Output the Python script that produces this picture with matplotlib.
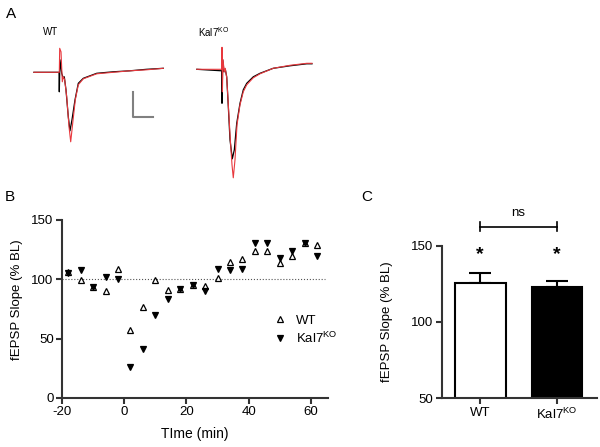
import matplotlib
matplotlib.use("Agg")
import matplotlib.pyplot as plt

plt.rcParams['font.family'] = ['Liberation Sans', 'DejaVu Sans']
plt.rcParams['axes.unicode_minus'] = False

# ---- data ----
# panel A: example traces (time in ms from stimulus, amplitude in mV from baseline)
wt_t_black = [-6.4, -0.12, -0.05, 0.12, 0.55, 0.95, 1.2, 1.62, 2.2, 2.62, 3.12, 3.88, 4.7, 5.95, 9.3, 13.4, 17.6, 21.8, 25.95]
wt_v_black = [0, 0, -0.39, 0.25, -0.02, -0.12, -0.09, -0.35, -0.89, -1.17, -0.95, -0.55, -0.22, -0.12, -0.02, 0.01, 0.03, 0.06, 0.08]
wt_t_red = [-6.4, -0.05, 0.05, 0.38, 0.7, 0.95, 1.3, 1.8, 2.38, 2.8, 3.3, 3.95, 4.7, 5.95, 9.3, 13.4, 17.6, 21.8, 25.95]
wt_v_red = [0, 0, 0.48, 0.41, -0.19, -0.09, -0.15, -0.49, -1.09, -1.39, -1.02, -0.55, -0.25, -0.13, -0.03, 0.0, 0.03, 0.05, 0.08]
ko_t_black = [-6.3, -0.08, 0.0, 0.18, 0.5, 0.82, 1.18, 1.58, 2.0, 2.58, 3.08, 3.68, 4.5, 5.32, 6.18, 7.82, 9.5, 12.8, 17.0, 21.2, 22.5]
ko_v_black = [0, -0.03, -0.68, 0.19, -0.05, 0, -0.15, -0.75, -1.41, -1.79, -1.61, -1.08, -0.68, -0.41, -0.28, -0.15, -0.08, 0.02, 0.07, 0.11, 0.11]
ko_t_red = [-6.3, -0.08, 0.0, 0.1, 0.25, 0.58, 0.82, 1.18, 1.58, 2.08, 2.5, 2.82, 3.25, 3.75, 4.5, 5.32, 6.18, 7.82, 9.5, 12.8, 17.0, 21.2, 22.5]
ko_v_red = [0, 0, 0.44, -0.45, 0.19, -0.05, 0.02, -0.17, -0.71, -1.41, -1.91, -2.17, -1.81, -1.11, -0.71, -0.45, -0.31, -0.17, -0.09, 0.02, 0.08, 0.12, 0.12]
scale_ms = 5
scale_mv = 0.5

# panel B: time course
time_min = [-18, -14, -10, -6, -2, 2, 6, 10, 14, 18, 22, 26, 30, 34, 38, 42, 46, 50, 54, 58, 62]
wt_slope = [106, 99.3, 93.7, 90.3, 108.8, 57.2, 76.8, 99.3, 90.9, 92, 95.3, 94.2, 101.5, 115, 117, 124, 124, 113.8, 119.4, 130.7, 128.7]
ko_slope = [105, 107.7, 93.7, 102, 100, 26.4, 41, 69.8, 83.3, 92, 95.3, 90, 108.5, 108, 108.5, 130.7, 130.7, 118.3, 123.7, 130.7, 119.4]

# panel C: summary
ko_name = 'Kal7$\\mathregular{^{KO}}$'
groups = ['WT', ko_name]
means = [125.8, 123.1]
sems = [6.5, 4.0]

W, H = 600, 447


def px(x, y):
    return x / W, 1 - y / H


fig = plt.figure(figsize=(6, 4.47), dpi=100)
axis_col = '#333333'

# ---- panel A ----
axA = fig.add_axes([0, 1 - 200 / H, 1, 200 / H])
axA.set_xlim(0, 150)
axA.set_ylim(-2.554, 1.446)
axA.axis('off')
wt_x0, ko_x0, ko_y0 = 14.875, 55.5, 0.06
axA.plot([t + wt_x0 for t in wt_t_black], wt_v_black, color='black', lw=0.9)
axA.plot([t + wt_x0 for t in wt_t_red], wt_v_red, color='#e8383d', lw=0.8)
axA.plot([t + ko_x0 for t in ko_t_black], [v + ko_y0 for v in ko_v_black], color='black', lw=0.9)
axA.plot([t + ko_x0 for t in ko_t_red], [v + ko_y0 for v in ko_v_red], color='#e8383d', lw=0.8)
sb_x, sb_y = 33.2, -0.89
axA.plot([sb_x, sb_x, sb_x + scale_ms], [sb_y + scale_mv, sb_y, sb_y], color='#808080', lw=1.5)

fig.text(*px(6, 14), 'A', fontsize=11, va='center')
fig.text(*px(43, 32), 'WT', fontsize=7, va='center')
fig.text(*px(198, 32), ko_name, fontsize=7, va='center')
fig.text(*px(5, 197), 'B', fontsize=11, va='center')
fig.text(*px(361, 197), 'C', fontsize=11, va='center')

# ---- panel B ----
axB = fig.add_axes([62 / W, 1 - 398 / H, 266 / W, 178 / H])
axB.axhline(100, color='#555555', lw=0.8, ls=':', xmax=0.99)
axB.plot(time_min, wt_slope, ls='none', marker='^', ms=4.5, mfc='white', mec='black', mew=0.9, label='WT')
axB.plot(time_min, ko_slope, ls='none', marker='v', ms=4.5, mfc='black', mec='black', mew=0.9, label=ko_name)
axB.set_xlim(-20, 65.5)
axB.set_ylim(0, 150)
axB.set_xticks([-20, 0, 20, 40, 60])
axB.set_yticks([0, 50, 100, 150])
axB.set_xlabel('TIme (min)', fontsize=10, labelpad=6)
axB.set_ylabel('fEPSP Slope (% BL)', fontsize=9.5)
axB.yaxis.set_label_coords(-0.147, 0.55)
axB.legend(frameon=False, loc='center left', bbox_to_anchor=(0.77, 0.38), fontsize=9.5,
           handletextpad=0.6, borderaxespad=0, labelspacing=0.3, handlelength=1.2)

# ---- panel C ----
axC = fig.add_axes([441.7 / W, 1 - 398.3 / H, 155 / W, 152.6 / H])
xpos = [0, 1]
axC.bar(xpos, means, width=0.66, bottom=0, color=['white', 'black'], edgecolor='black', linewidth=1.5, zorder=2)
axC.errorbar(xpos, means, yerr=[[0, 0], sems], fmt='none', ecolor='black', elinewidth=1.5,
             capsize=8, capthick=1.5, zorder=1)
for x, m in zip(xpos, means):
    axC.text(x, 144, '*', ha='center', va='center', fontsize=14, fontweight='bold')
axC.plot([0, 1], [162.4, 162.4], color='black', lw=1.2, clip_on=False)
axC.plot([0, 0], [159.5, 165.3], color='black', lw=1.2, clip_on=False)
axC.plot([1, 1], [159.5, 165.3], color='black', lw=1.2, clip_on=False)
axC.text(0.5, 171.4, 'ns', ha='center', va='center', fontsize=9.5)
axC.set_xlim(-0.5, 1.515)
axC.set_ylim(50, 150)
axC.set_yticks([50, 100, 150])
axC.set_xticks(xpos)
axC.set_xticklabels(groups)
axC.set_ylabel('fEPSP Slope (% BL)', fontsize=9.5)
axC.yaxis.set_label_coords(-0.314, 0.5)

for ax in (axB, axC):
    for s in ('top', 'right'):
        ax.spines[s].set_visible(False)
    for s in ('left', 'bottom'):
        ax.spines[s].set_linewidth(1.5)
        ax.spines[s].set_color(axis_col)
    ax.tick_params(width=1.5, length=4, color=axis_col, labelsize=9.5, pad=2)

fig.savefig('out.png', dpi=100)
